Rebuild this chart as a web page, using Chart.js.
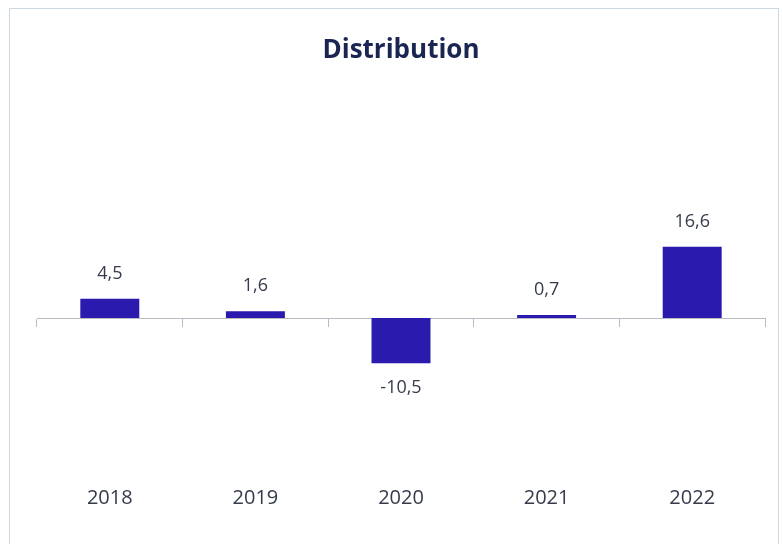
<!DOCTYPE html>
<html>
<head>
<meta charset="utf-8">
<title>Distribution</title>
<script src="https://cdn.jsdelivr.net/npm/chart.js@4.4.1/dist/chart.umd.min.js"></script>
<style>
  html, body { margin:0; padding:0; background:#fff; overflow:hidden; }
  #wrap  { position:relative; width:782px; height:544px; }
  #frame { position:absolute; left:9px; top:8px; width:770px; height:600px; border:1px solid #cdd9e3; box-sizing:border-box; pointer-events:none; }
</style>
</head>
<body>
<div id="wrap">
  <canvas id="chartDist"></canvas>
  <div id="frame"></div>
</div>
<script>
  // ── Dados ──────────────────────────────────────────────────────────────
  const YEARS  = ['2018', '2019', '2020', '2021', '2022'];
  const VALUES = [4.5, 1.6, -10.5, 0.7, 16.6];
  const TITLE  = 'Distribution';

  const BAR_COLOR  = '#2a1aad';
  const TEXT_COLOR = '#353b4b';
  const AXIS_COLOR = '#b9bcc2';
  const FONT       = "'Open Sans', 'Noto Sans', sans-serif";

  function fmt(v) { return v.toFixed(1).replace('.', ','); }

  // value labels above / below each bar
  const valueLabels = {
    id: 'valueLabels',
    afterDatasetsDraw(chart) {
      const { ctx } = chart;
      const meta = chart.getDatasetMeta(0);
      ctx.save();
      ctx.font = `18px ${FONT}`;
      ctx.fillStyle = TEXT_COLOR;
      ctx.textAlign = 'center';
      ctx.textBaseline = 'middle';
      meta.data.forEach((bar, i) => {
        const v = VALUES[i];
        const y = v >= 0 ? bar.y - 25 : bar.y + 25;
        ctx.fillText(fmt(v), bar.x, y);
      });
      ctx.restore();
    },
  };

  new Chart(document.getElementById('chartDist'), {
    type: 'bar',
    data: {
      labels: YEARS,
      datasets: [{
        data: VALUES,
        backgroundColor: BAR_COLOR,
        borderWidth: 0,
        categoryPercentage: 1,
        barPercentage: 0.405,
      }],
    },
    options: {
      responsive: true, maintainAspectRatio: false, animation: false,
      layout: { padding: { left: 37, right: 17, top: 0, bottom: 15.5 } },
      plugins: {
        legend: { display: false },
        tooltip: { enabled: false },
        title: {
          display: true, text: TITLE, fullSize: false,
          color: '#1b2552',
          font: { family: FONT, size: 26, weight: 'bold' },
          padding: { top: 35, bottom: 123 },
        },
      },
      scales: {
        x: {
          offset: true,
          grid: { display: false, drawTicks: false },
          border: { display: false },
          ticks: { color: TEXT_COLOR, padding: 18, font: { family: FONT, size: 20 } },
        },
        // zero line with tick marks between categories
        x2: {
          type: 'category', labels: YEARS, offset: true,
          position: { y: 0 },
          grid: { display: true, offset: true, drawOnChartArea: false, drawTicks: true, tickLength: 8, color: AXIS_COLOR },
          border: { display: true, color: AXIS_COLOR, width: 1 },
          ticks: { display: false },
        },
        y: { display: false, min: -35, max: 30 },
      },
    },
    plugins: [valueLabels],
  });
</script>
</body>
</html>
